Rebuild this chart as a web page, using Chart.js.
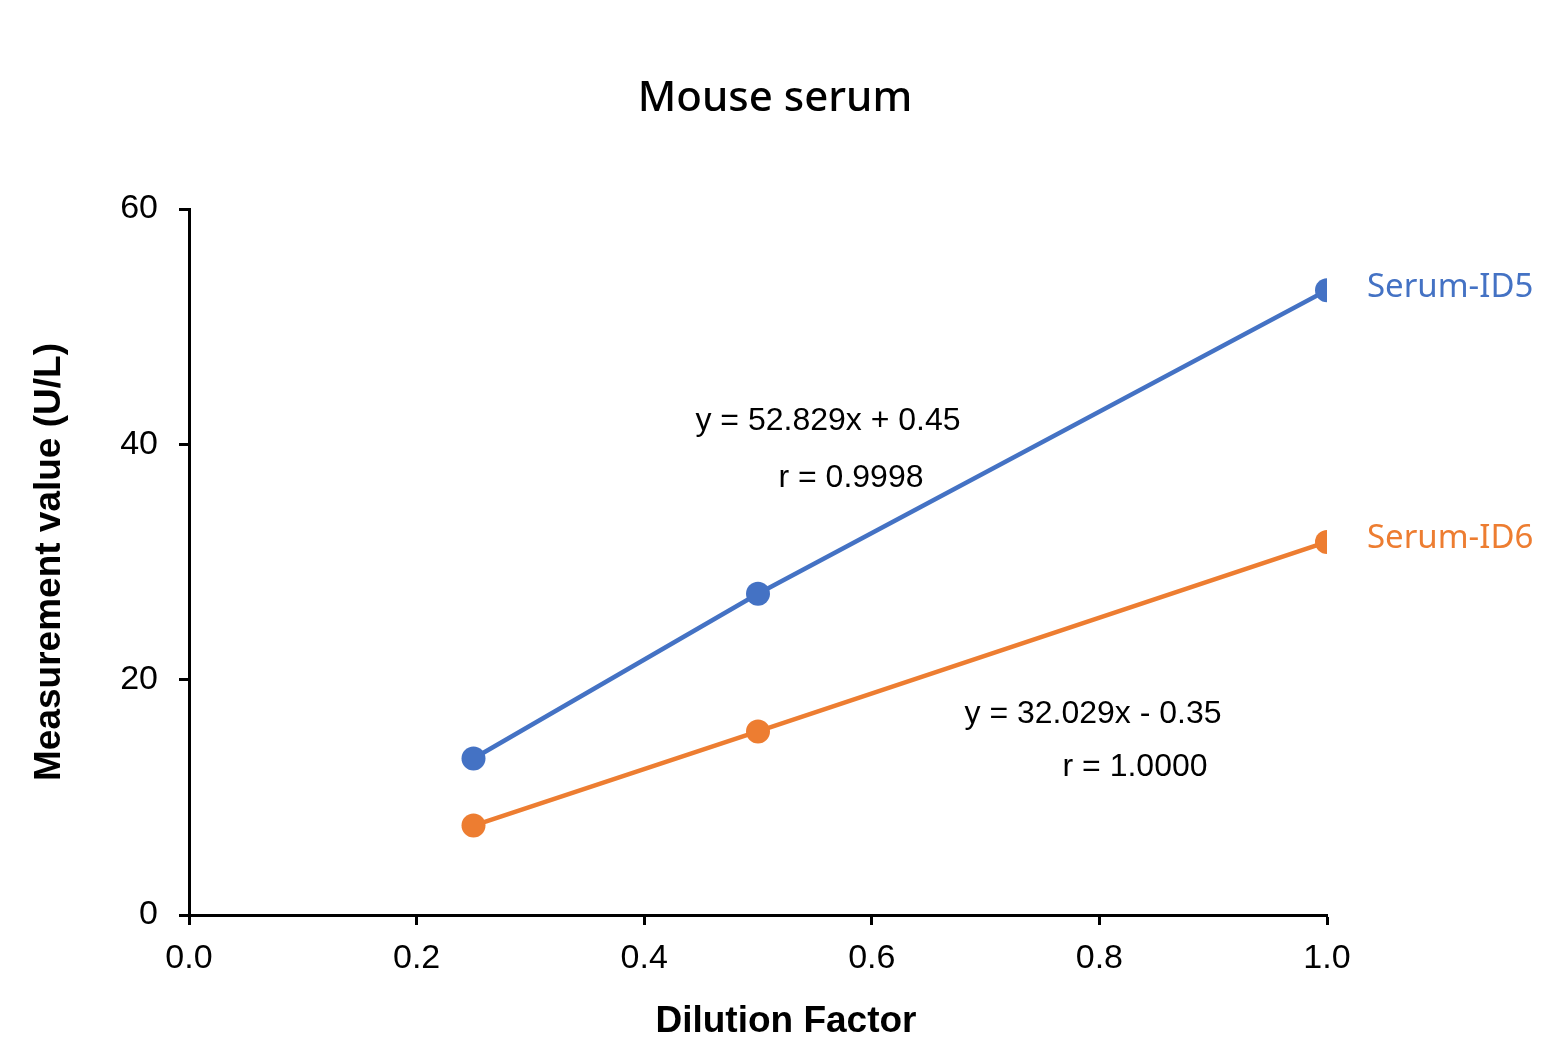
<!DOCTYPE html>
<html>
<head>
<meta charset="utf-8">
<script src="https://cdn.jsdelivr.net/npm/chart.js@4/dist/chart.umd.min.js"></script>
<style>
  html, body { margin: 0; padding: 0; background: #fff; }
  #wrap { width: 1550px; height: 1060px; }
</style>
</head>
<body>
<div id="wrap"><canvas id="chart" width="1550" height="1060"></canvas></div>
<script>
// data
const dilution = [0.25, 0.5, 1.0];
const serumID5 = [13.3, 27.3, 53.1];
const serumID6 = [7.6, 15.6, 31.7];
const seriesNames = ["Serum-ID5", "Serum-ID6"];
const fitLines = [
  ["y = 52.829x + 0.45", "r = 0.9998"],
  ["y = 32.029x - 0.35", "r = 1.0000"]
];

const BLUE = "#4472C4";
const ORANGE = "#ED7D31";

// where the equation text sits, in axis units
const fitPos = [
  [[0.5615, 41.98], [0.5817, 37.14]],
  [[0.7944, 17.08], [0.8313, 12.58]]
];

function toPoints(xs, ys) {
  return xs.map((x, i) => ({ x: x, y: ys[i] }));
}

const labelsPlugin = {
  id: "labels",
  afterDraw(chart) {
    const ctx = chart.ctx;
    const xs = chart.scales.x, ys = chart.scales.y;
    ctx.save();
    ctx.textAlign = "center";
    ctx.textBaseline = "middle";
    // chart title, centred on the whole page
    ctx.fillStyle = "#000";
    ctx.font = "500 42px 'Noto Sans', sans-serif";
    ctx.fillText("Mouse serum", chart.width / 2, 99);
    // x axis title
    ctx.font = "bold 37px 'Liberation Sans', Arial, sans-serif";
    ctx.fillText("Dilution Factor", 786, 1022);
    // fit equations
    ctx.font = "32px 'Liberation Sans', Arial, sans-serif";
    fitLines.forEach((lines, i) => {
      lines.forEach((txt, j) => {
        const p = fitPos[i][j];
        ctx.fillText(txt, xs.getPixelForValue(p[0]), ys.getPixelForValue(p[1]));
      });
    });
    // series names next to last point
    ctx.font = "33px 'Noto Sans', sans-serif";
    ctx.textAlign = "left";
    chart.data.datasets.forEach((ds, i) => {
      const meta = chart.getDatasetMeta(i);
      const last = meta.data[meta.data.length - 1];
      ctx.fillStyle = ds.borderColor;
      ctx.fillText(ds.label, last.x + 40, last.y - 3);
    });
    ctx.restore();
  }
};

new Chart(document.getElementById("chart"), {
  type: "line",
  data: {
    datasets: [
      {
        label: seriesNames[0],
        data: toPoints(dilution, serumID5),
        borderColor: BLUE,
        backgroundColor: BLUE,
        borderWidth: 4.5,
        pointRadius: 12,
        pointBorderWidth: 0,
        pointBackgroundColor: BLUE
      },
      {
        label: seriesNames[1],
        data: toPoints(dilution, serumID6),
        borderColor: ORANGE,
        backgroundColor: ORANGE,
        borderWidth: 4.5,
        pointRadius: 12,
        pointBorderWidth: 0,
        pointBackgroundColor: ORANGE
      }
    ]
  },
  options: {
    responsive: false,
    animation: false,
    events: [],
    layout: { padding: { left: 0, right: 223, top: 209, bottom: 0 } },
    plugins: {
      legend: { display: false },
      tooltip: { enabled: false },
      title: { display: false }
    },
    scales: {
      x: {
        type: "linear",
        min: 0,
        max: 1,
        ticks: {
          stepSize: 0.2,
          color: "#000",
          padding: 13,
          font: { family: "'Liberation Sans', Arial, sans-serif", size: 34 },
          callback: v => v.toFixed(1)
        },
        grid: { drawOnChartArea: false, drawTicks: true, tickLength: 10, tickWidth: 3, tickColor: "#000" },
        border: { display: true, color: "#000", width: 3 },
        title: { display: false },
        afterFit(scale) { scale.height = 145; }
      },
      y: {
        type: "linear",
        min: 0,
        max: 60,
        ticks: {
          stepSize: 20,
          color: "#000",
          padding: 21,
          font: { family: "'Liberation Sans', Arial, sans-serif", size: 34 }
        },
        grid: { drawOnChartArea: false, drawTicks: true, tickLength: 10, tickWidth: 3, tickColor: "#000" },
        border: { display: true, color: "#000", width: 3 },
        title: {
          display: true,
          text: "Measurement value (U/L)",
          color: "#000",
          font: { family: "'Liberation Sans', Arial, sans-serif", size: 37, weight: "bold" },
          padding: { top: 28, bottom: 0 }
        },
        afterFit(scale) { scale.width = 189; }
      }
    }
  },
  plugins: [labelsPlugin]
});
</script>
</body>
</html>
